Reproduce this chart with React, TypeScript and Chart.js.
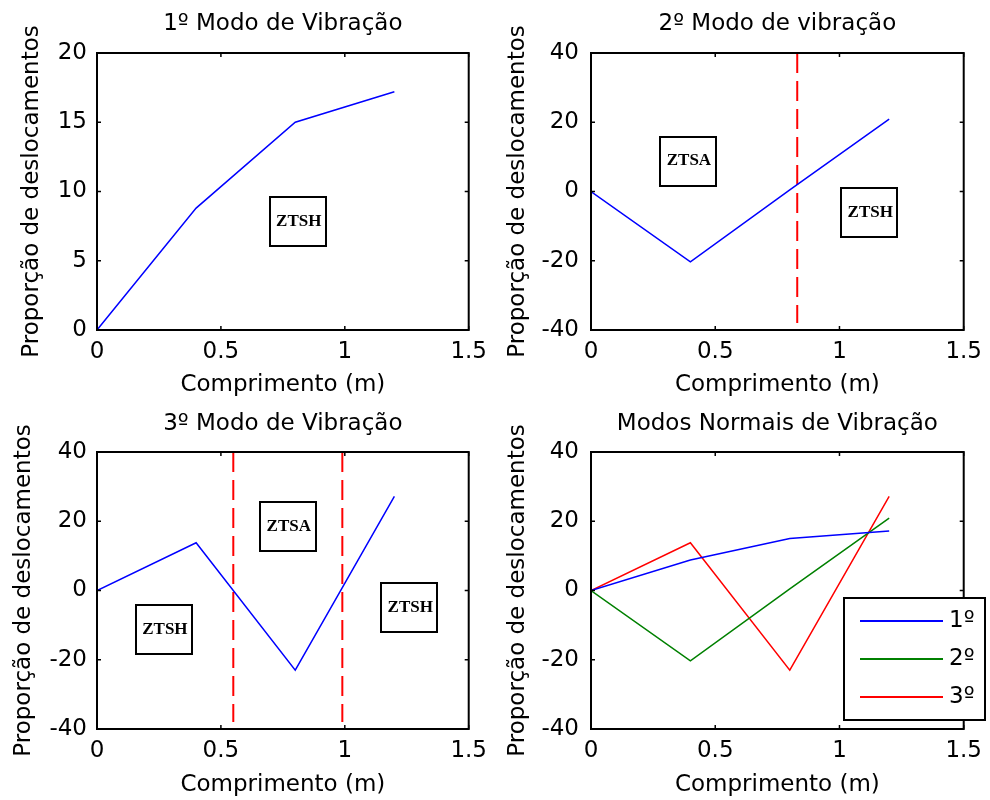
import React, { useEffect, useRef } from 'react';
import { Chart, registerables } from 'chart.js';

Chart.register(...registerables);

// ---------- data ----------
const positions = [0, 0.4, 0.8, 1.2];
const mode1 = [0, 8.8, 15.0, 17.2];
const mode2 = [0, -20.3, 0.5, 20.9];
const mode3 = [0, 13.8, -23.0, 27.2];
const modeLabels = ['1º', '2º', '3º'];
const modeColors = ['#0000ff', '#008000', '#ff0000'];

const panelTitles = ['1º Modo de Vibração', '2º Modo de vibração', '3º Modo de Vibração', 'Modos Normais de Vibração'];
const xAxisLabel = 'Comprimento (m)';
const yAxisLabel = 'Proporção de deslocamentos';

const xTickValues = [0, 0.5, 1, 1.5];
const yTicksFirst = [0, 5, 10, 15, 20];
const yTicksOthers = [-40, -20, 0, 20, 40];

const nodesMode2 = [0.83];
const nodesMode3 = [0.55, 0.99];
const nodeSpan = [-38, 40];

const zonesMode1 = [{ text: 'ZTSH', x: 0.81, y: 7.8 }];
const zonesMode2 = [
  { text: 'ZTSA', x: 0.39, y: 8.8 },
  { text: 'ZTSH', x: 1.12, y: -6.2 },
];
const zonesMode3 = [
  { text: 'ZTSH', x: 0.27, y: -11.3 },
  { text: 'ZTSA', x: 0.77, y: 18.5 },
  { text: 'ZTSH', x: 1.26, y: -4.8 },
];

// ---------- styling ----------
const FONT = "'DejaVu Sans', sans-serif";
const baseFont = { family: FONT, size: 23, weight: 'normal' as const, lineHeight: 1.2 };

const toPoints = (vals: number[]) => vals.map((v, i) => ({ x: positions[i], y: v }));

const modeDataset = (idx: number, vals: number[]) => ({
  label: modeLabels[idx],
  data: toPoints(vals),
  borderColor: modeColors[idx],
  backgroundColor: modeColors[idx],
  borderWidth: 1.5,
  pointRadius: 0,
  tension: 0,
  fill: false,
});

const nodeDataset = (x: number) => ({
  label: '',
  isNode: true,
  data: [
    { x, y: nodeSpan[1] },
    { x, y: nodeSpan[0] },
  ],
  borderColor: '#ff0000',
  borderWidth: 2,
  borderDash: [20, 8],
  pointRadius: 0,
  tension: 0,
  fill: false,
});

const decorPlugin = {
  id: 'decor',
  afterDraw(chart: any, _args: any, opts: any) {
    const { ctx, chartArea } = chart;
    const { left, right, top, bottom } = chartArea;
    const xs = chart.scales.x;
    const ys = chart.scales.y;
    ctx.save();

    // zone boxes
    (opts.zones || []).forEach((z: any) => {
      const cx = xs.getPixelForValue(z.x);
      const cy = ys.getPixelForValue(z.y);
      const w = 56;
      const h = 49;
      ctx.strokeStyle = '#000';
      ctx.lineWidth = 2;
      ctx.strokeRect(Math.round(cx - w / 2), Math.round(cy - h / 2), w, h);
      ctx.fillStyle = '#000';
      ctx.font = "bold 17px 'Liberation Serif', serif";
      ctx.textAlign = 'center';
      ctx.textBaseline = 'middle';
      ctx.fillText(z.text, cx + 1, cy);
    });

    // axes box
    ctx.strokeStyle = '#000';
    ctx.lineWidth = 2;
    ctx.strokeRect(left, top, right - left, bottom - top);

    // inward tick marks on all sides
    const tl = 4;
    ctx.lineWidth = 1.5;
    ctx.beginPath();
    xs.ticks.forEach((t: any) => {
      const px = xs.getPixelForValue(t.value);
      ctx.moveTo(px, bottom);
      ctx.lineTo(px, bottom - tl);
      ctx.moveTo(px, top);
      ctx.lineTo(px, top + tl);
    });
    ys.ticks.forEach((t: any) => {
      const py = ys.getPixelForValue(t.value);
      ctx.moveTo(left, py);
      ctx.lineTo(left + tl, py);
      ctx.moveTo(right, py);
      ctx.lineTo(right - tl, py);
    });
    ctx.stroke();

    // legend box
    if (opts.legend) {
      const items = chart.data.datasets.filter((d: any) => !d.isNode);
      const bw = 141;
      const bh = 122;
      const bx = Math.round(right + 21 - bw);
      const by = Math.round(bottom - 9 - bh);
      ctx.fillStyle = '#fff';
      ctx.fillRect(bx, by, bw, bh);
      ctx.strokeStyle = '#000';
      ctx.lineWidth = 2;
      ctx.strokeRect(bx, by, bw, bh);
      ctx.font = `23px ${FONT}`;
      ctx.textAlign = 'left';
      ctx.textBaseline = 'middle';
      items.forEach((d: any, i: number) => {
        const ry = by + 23 + i * 38;
        ctx.strokeStyle = d.borderColor;
        ctx.lineWidth = 2;
        ctx.beginPath();
        ctx.moveTo(bx + 16, ry);
        ctx.lineTo(bx + 99, ry);
        ctx.stroke();
        ctx.fillStyle = '#000';
        ctx.fillText(d.label, bx + 105, ry);
      });
    }
    ctx.restore();
  },
};

type PanelLayout = {
  left: number;
  right: number;
  top: number;
  bottom: number;
  tickPad: number;
  yTitlePad: number;
};

function makeConfig(
  title: string,
  datasets: any[],
  yTicks: number[],
  lay: PanelLayout,
  zones: any[],
  legend: boolean
): any {
  const titleLine = baseFont.size * baseFont.lineHeight;
  const titleTopPad = 10;
  return {
    type: 'line',
    data: { datasets },
    plugins: [decorPlugin],
    options: {
      animation: false,
      responsive: false,
      maintainAspectRatio: false,
      devicePixelRatio: 1,
      layout: { padding: { left: 0, right: 495 - lay.right, top: 0, bottom: 0 } },
      plugins: {
        legend: { display: false },
        tooltip: { enabled: false },
        title: {
          display: true,
          text: title,
          color: '#000',
          font: baseFont,
          fullSize: false,
          padding: { top: titleTopPad, bottom: lay.top - titleTopPad - titleLine },
        },
        decor: { zones, legend },
      },
      scales: {
        x: {
          type: 'linear',
          min: xTickValues[0],
          max: xTickValues[xTickValues.length - 1],
          afterBuildTicks: (s: any) => {
            s.ticks = xTickValues.map((v) => ({ value: v }));
          },
          afterFit: (s: any) => {
            s.height = 400 - lay.bottom;
          },
          grid: { display: false, drawTicks: false },
          border: { display: false },
          ticks: {
            color: '#000',
            font: baseFont,
            padding: 8,
            maxRotation: 0,
            autoSkip: false,
            callback: (v: any) => String(v),
          },
          title: {
            display: true,
            text: xAxisLabel,
            color: '#000',
            font: baseFont,
            padding: { top: 0, bottom: 1 },
          },
        },
        y: {
          type: 'linear',
          min: yTicks[0],
          max: yTicks[yTicks.length - 1],
          afterBuildTicks: (s: any) => {
            s.ticks = yTicks.map((v) => ({ value: v }));
          },
          afterFit: (s: any) => {
            s.width = lay.left;
          },
          grid: { display: false, drawTicks: false },
          border: { display: false },
          ticks: {
            color: '#000',
            font: baseFont,
            padding: lay.tickPad,
            autoSkip: false,
            callback: (v: any) => String(v),
          },
          title: {
            display: true,
            text: yAxisLabel,
            color: '#000',
            font: baseFont,
            padding: { top: lay.yTitlePad, bottom: 0 },
          },
        },
      },
    },
  };
}

function Panel({ config, x, y }: { config: any; x: number; y: number }) {
  const ref = useRef<HTMLCanvasElement>(null);
  useEffect(() => {
    const chart = new Chart(ref.current as HTMLCanvasElement, config);
    return () => chart.destroy();
  }, [config]);
  return (
    <div style={{ position: 'absolute', left: x, top: y, width: 495, height: 400 }}>
      <canvas ref={ref} width={495} height={400} style={{ display: 'block', width: 495, height: 400 }} />
    </div>
  );
}

const configs = [
  makeConfig(
    panelTitles[0],
    [modeDataset(0, mode1)],
    yTicksFirst,
    { left: 97, right: 473, top: 53, bottom: 330, tickPad: 10, yTitlePad: 18 },
    zonesMode1,
    false
  ),
  makeConfig(
    panelTitles[1],
    [modeDataset(0, mode2), ...nodesMode2.map(nodeDataset)],
    yTicksOthers,
    { left: 96, right: 472, top: 53, bottom: 330, tickPad: 12, yTitlePad: 9 },
    zonesMode2,
    false
  ),
  makeConfig(
    panelTitles[2],
    [modeDataset(0, mode3), ...nodesMode3.map(nodeDataset)],
    yTicksOthers,
    { left: 97, right: 473, top: 52, bottom: 329, tickPad: 10, yTitlePad: 10 },
    zonesMode3,
    false
  ),
  makeConfig(
    panelTitles[3],
    [modeDataset(0, mode1), modeDataset(1, mode2), modeDataset(2, mode3)],
    yTicksOthers,
    { left: 96, right: 472, top: 52, bottom: 329, tickPad: 12, yTitlePad: 9 },
    [],
    true
  ),
];

export default function App() {
  return (
    <div style={{ position: 'absolute', left: 0, top: 0, width: 990, height: 800, background: '#fff', overflow: 'hidden' }}>
      <Panel config={configs[0]} x={0} y={0} />
      <Panel config={configs[1]} x={495} y={0} />
      <Panel config={configs[2]} x={0} y={400} />
      <Panel config={configs[3]} x={495} y={400} />
    </div>
  );
}
